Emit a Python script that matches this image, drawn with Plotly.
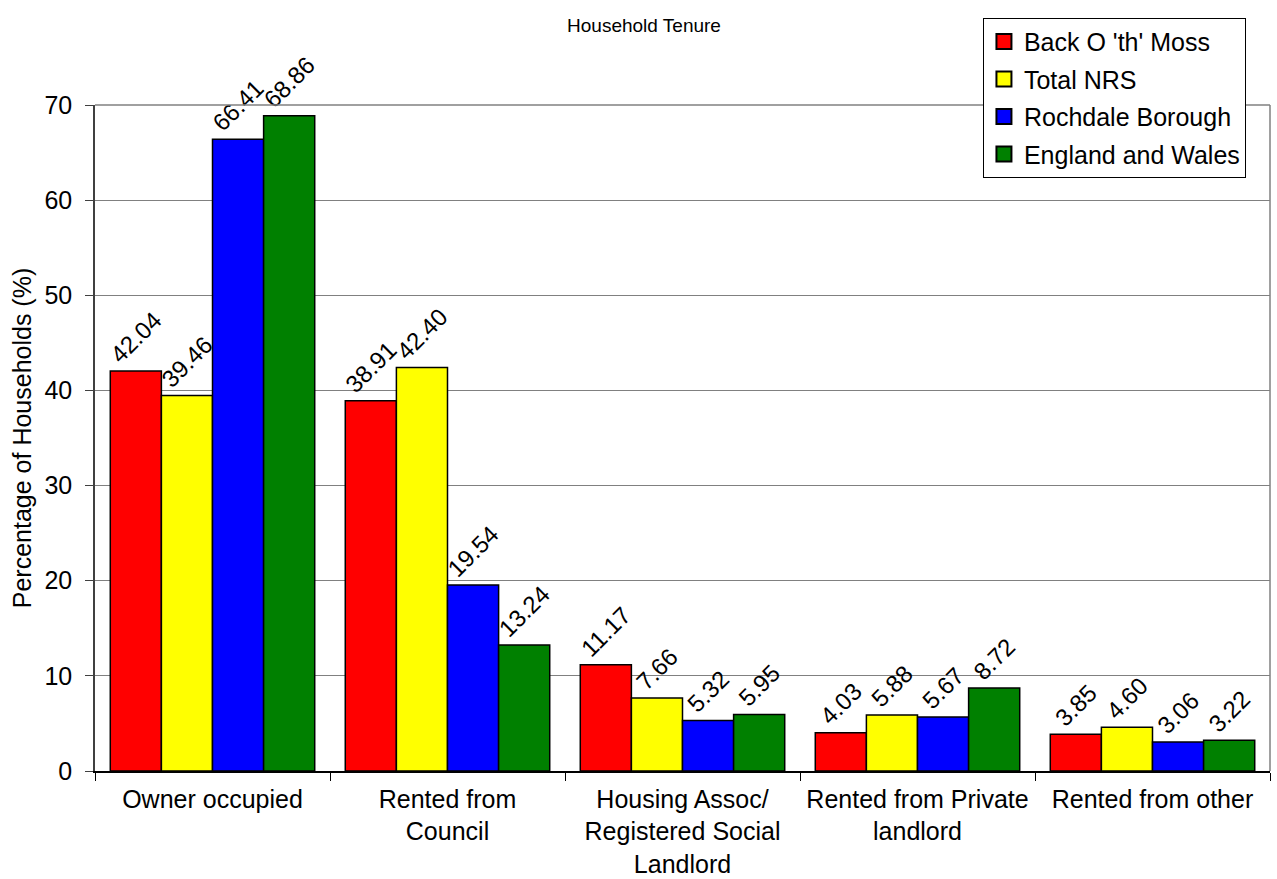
import plotly.graph_objects as go

categories = [
    "Owner occupied",
    "Rented from<br>Council",
    "Housing Assoc/<br>Registered Social<br>Landlord",
    "Rented from Private<br>landlord",
    "Rented from other",
]
series_names = ["Back O 'th' Moss", "Total NRS", "Rochdale Borough", "England and Wales"]
back_o_th_moss = [42.04, 38.91, 11.17, 4.03, 3.85]
total_nrs = [39.46, 42.40, 7.66, 5.88, 4.60]
rochdale_borough = [66.41, 19.54, 5.32, 5.67, 3.06]
england_wales = [68.86, 13.24, 5.95, 8.72, 3.22]
colors = ["#FF0000", "#FFFF00", "#0000FF", "#008000"]

FONT = "Liberation Sans, Arial, sans-serif"

fig = go.Figure()
for i, (name, vals, col) in enumerate(zip(series_names,
                                          [back_o_th_moss, total_nrs, rochdale_borough, england_wales],
                                          colors)):
    fig.add_trace(go.Bar(
        name=name,
        x=categories,
        y=vals,
        marker=dict(color=col, line=dict(color="#000000", width=1.5)),
        text=[f"{v:.2f}" for v in vals],
        textposition="outside",
        textangle=-45,
        constraintext="none",
        textfont=dict(family=FONT, size=24, color="#000000"),
        cliponaxis=False,
        showlegend=False,
    ))
    # legend entry drawn as a bordered square
    fig.add_trace(go.Scatter(
        name=name,
        x=[None],
        y=[None],
        mode="markers",
        marker=dict(symbol="square", size=15, color=col,
                    line=dict(color="#000000", width=2)),
        legendgroup=f"g{i}",
        showlegend=True,
    ))

fig.update_layout(
    barmode="group",
    bargap=0.13,
    bargroupgap=0,
    width=1277,
    height=879,
    margin=dict(l=95, r=7, t=105, b=108, autoexpand=False),
    paper_bgcolor="#FFFFFF",
    plot_bgcolor="#FFFFFF",
    font=dict(family=FONT, size=25, color="#000000"),
    title=dict(
        text="Household Tenure",
        x=644 / 1277,
        xanchor="center",
        y=1 - 25 / 879,
        yanchor="middle",
        font=dict(family=FONT, size=19, color="#000000"),
    ),
    legend=dict(
        x=0.7557,
        y=1.131,
        xanchor="left",
        yanchor="top",
        bgcolor="#FFFFFF",
        bordercolor="#000000",
        borderwidth=1,
        font=dict(family=FONT, size=25, color="#000000"),
        tracegroupgap=2,
        itemwidth=30,
        itemsizing="trace",
    ),
    showlegend=True,
)

fig.update_xaxes(
    type="category",
    automargin=False,
    showline=True,
    linecolor="#000000",
    linewidth=1.5,
    ticks="outside",
    tickson="boundaries",
    ticklen=8,
    tickcolor="#000000",
    tickfont=dict(family=FONT, size=25),
    ticklabelstandoff=5,
    showgrid=False,
)
fig.update_yaxes(
    range=[0, 70],
    dtick=10,
    automargin=False,
    showline=True,
    linecolor="#404040",
    linewidth=1.5,
    ticks="outside",
    ticklen=8,
    tickcolor="#404040",
    tickfont=dict(family=FONT, size=25),
    ticklabelstandoff=8,
    showgrid=True,
    gridcolor="#808080",
    gridwidth=1,
    zeroline=False,
    title=dict(text="Percentage of Households (%)",
               font=dict(family=FONT, size=25), standoff=6),
)

# Grey frame along the top and right edges of the plotting area
fig.add_shape(type="line", xref="paper", yref="paper", x0=0, x1=1, y0=1, y1=1,
              line=dict(color="#808080", width=1.5))
fig.add_shape(type="line", xref="paper", yref="paper", x0=1, x1=1, y0=0, y1=1,
              line=dict(color="#808080", width=1.5))

fig.write_html("out.html")
